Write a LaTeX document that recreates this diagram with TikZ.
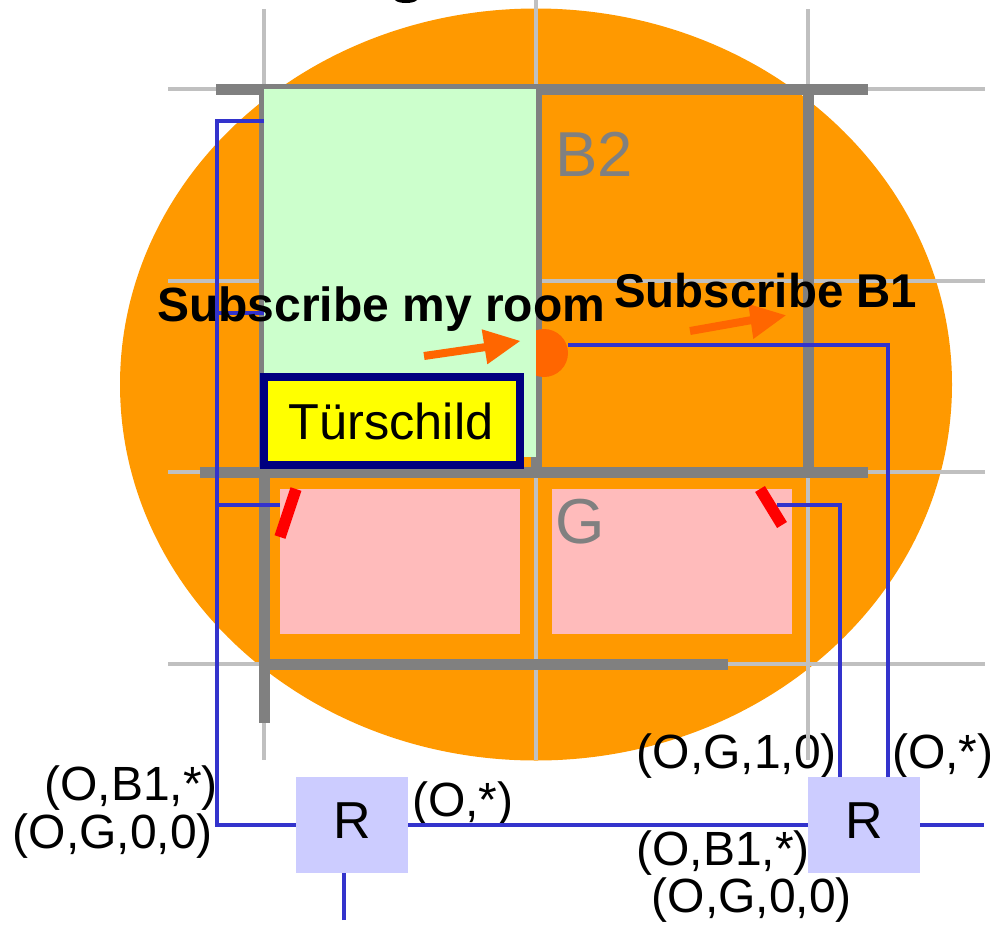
\documentclass[tikz,border=0pt]{standalone}
\usepackage{fontspec}
\setmainfont{Liberation Sans}
\definecolor{orangebg}{HTML}{FF9900}
\definecolor{gridgrey}{HTML}{C0C0C0}
\definecolor{wallgrey}{HTML}{808080}
\definecolor{roomgreen}{HTML}{CCFFCC}
\definecolor{roompink}{HTML}{FFBBBB}
\definecolor{wireblue}{HTML}{3333CC}
\definecolor{routerblue}{HTML}{CCCCFF}
\definecolor{accent}{HTML}{FF6600}
\definecolor{signnavy}{HTML}{000080}
\definecolor{signyellow}{HTML}{FFFF00}
\definecolor{tickred}{HTML}{FF0000}
\tikzset{
  gridline/.style={draw=gridgrey,line width=4.5pt},
  wall/.style={draw=wallgrey,line width=11pt},
  wire/.style={draw=wireblue,line width=4.5pt},
  tick/.style={draw=tickred,line width=11.5pt},
  shaft/.style={draw=accent,line width=8pt},
  headtip/.style={fill=accent},
  lab/.style={inner sep=0pt,font=\fontsize{48}{57}\selectfont},
  boldlab/.style={inner sep=0pt,font=\fontsize{48}{58}\selectfont\bfseries},
  floorlab/.style={inner sep=0pt,text=wallgrey,font=\fontsize{63.5}{75}\selectfont},
  router/.style={fill=routerblue,minimum width=112pt,minimum height=96pt,inner sep=0pt,
    text height=36pt,text depth=10pt,font=\fontsize{52}{60}\selectfont},
  doorsign/.style={draw=signnavy,fill=signyellow,line width=8pt,minimum width=256pt,minimum height=88pt,
    inner sep=0pt,text height=36pt,text depth=0pt,font=\fontsize{50.5}{60}\selectfont}
}
\begin{document}
\begin{tikzpicture}[x=1pt,y=-1pt]
\useasboundingbox (0,0) rectangle (993,924);
\clip (0,0) rectangle (993,924);
% background
\fill[orangebg] (536,384.5) ellipse [x radius=416, y radius=376];
% labels lying under the grid
\node[lab,anchor=base east] (lb1) at (218,800) {(O,B1,*)};
\node[lab,anchor=base east] (lg0) at (213,848) {(O,G,0,0)};
\node[lab,anchor=base west] (lstar) at (412,816) {(O,*)};
\node[lab,anchor=base east] (lg1) at (837,768) {(O,G,1,0)};
\node[lab,anchor=base west] (rstar) at (892,768) {(O,*)};
\node[lab,anchor=base east] (rb1) at (810,865) {(O,B1,*)};
\node[lab,anchor=base east] (rg0) at (852,912) {(O,G,0,0)};
% grid
\foreach \y in {89,281,472,664} \draw[gridline] (168,\y) -- (985,\y);
\draw[gridline] (264,9) -- (264,760);
\draw[gridline] (536,0) -- (536,760);
\draw[gridline] (808,9) -- (808,760);
% pink rooms
\fill[roompink] (280,489) rectangle (520,634);
\fill[roompink] (552,489) rectangle (792,634);
% walls
\draw[wall] (216,89) -- (868,89);
\draw[wall] (200,472) -- (868,472);
\draw[wall] (264,664) -- (728,664);
\draw[wall] (264,84) -- (264,723);
\draw[wall] (536,84) -- (536,477);
\draw[wall] (808,84) -- (808,477);
% access point and green room
\fill[accent] (544,353) circle [radius=24];
\fill[roomgreen] (264,89) rectangle (536,457);
% floor labels
\node[floorlab,anchor=base west] (b2) at (555,176) {B2};
\node[floorlab,anchor=base west] (g) at (555,543) {G};
% door sign and routers
\node[doorsign] (sign) at (392,421) {Türschild\hspace*{2pt}};
\node[router] (rl) at (352,825) {R};
\node[router] (rr) at (864,825) {R};
% wire anchor points
\coordinate (w1) at (264,121);
\coordinate (w1c) at (217,121);
\coordinate (w2) at (264,313);
\coordinate (w2c) at (217,313);
\coordinate (w3) at (280,505);
\coordinate (w3c) at (217,505);
\coordinate (w4c) at (217,825);
\coordinate (ap) at (568,345);
\coordinate (apc) at (888,345);
\coordinate (t2) at (777,505);
\coordinate (t2c) at (840,505);
\coordinate (eastend) at (984,825);
\coordinate (southend) at (344,920);
% wires
\draw[wire] (w1) -- (w1c) -- (w4c) -- (rl.west);
\draw[wire] (w2) -- (w2c);
\draw[wire] (w3) -- (w3c);
\draw[wire] (rl.east) -- (rr.west);
\draw[wire] (rr.east) -- (eastend);
\draw[wire] (southend) -- (southend |- rl.south);
\draw[wire] (ap) -- (apc) -- (apc |- rr.north);
\draw[wire] (t2) -- (t2c) -- (t2c |- rr.north);
% routers over the wires
\node[router] (rlt) at (352,825) {R};
\node[router] (rrt) at (864,825) {R};
% red ticks
\draw[tick] (296,489) -- (280,537);
\draw[tick] (760,489) -- (782,525);
% arrows
\draw[shaft] (424,356) -- (486,347);
\fill[headtip] (481.7,329.3) -- (520,341) -- (487.3,364.3) -- cycle;
\draw[shaft] (690,331) -- (752,320);
\fill[headtip] (748.3,304) -- (785.7,315.3) -- (753.3,339) -- cycle;
% bold labels
\node[boldlab,anchor=base west] (sub1) at (157,321) {Subscribe my room};
\node[boldlab,anchor=base west,font=\fontsize{47.4}{58}\selectfont\bfseries] (sub2) at (614,307) {Subscribe B1};
% clipped descender at the top edge
\fill[black] (395,0) .. controls (398,4) and (414,4) .. (417,0) -- cycle;
\end{tikzpicture}
\end{document}
